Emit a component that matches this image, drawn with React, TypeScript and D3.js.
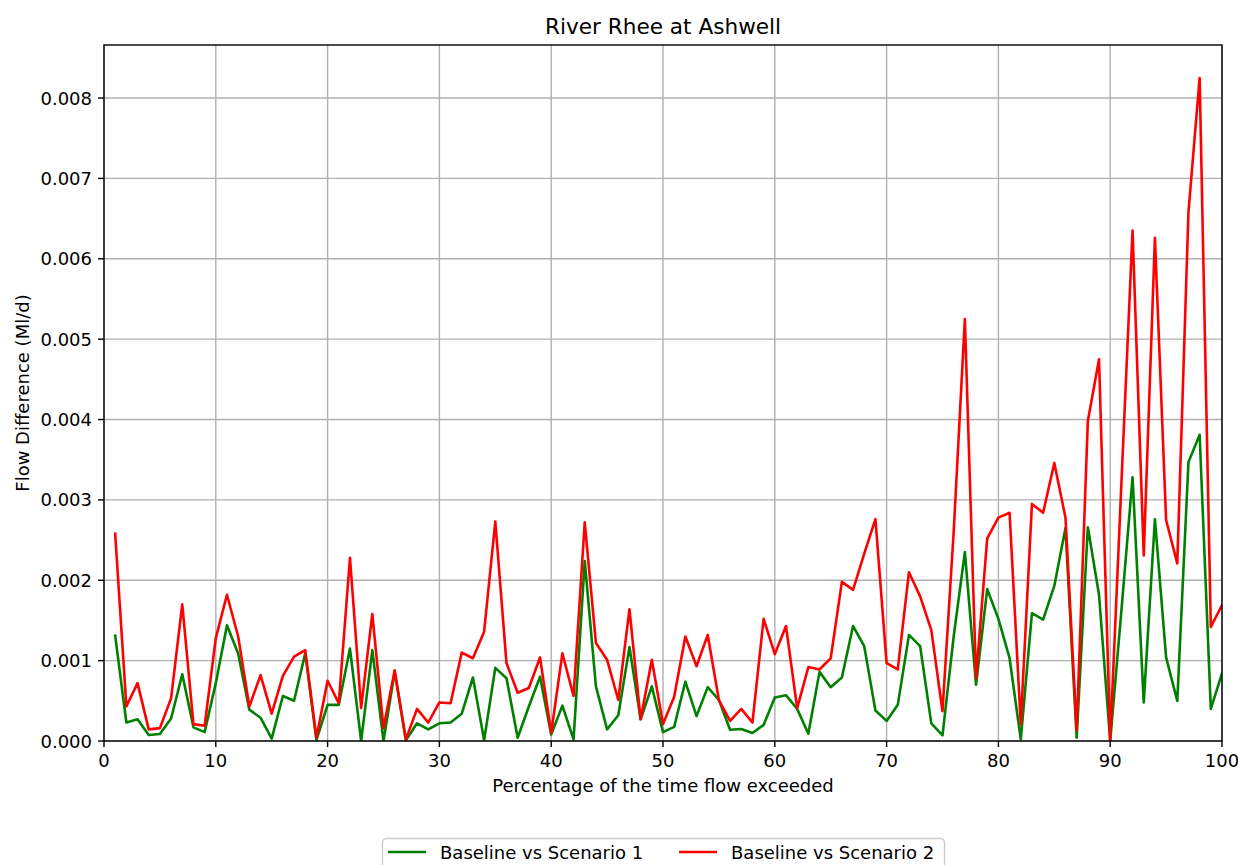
import React from "react";
import * as d3 from "d3";

const title = "River Rhee at Ashwell";
const xLabel = "Percentage of the time flow exceeded";
const yLabel = "Flow Difference (Ml/d)";
const seriesNames = ["Baseline vs Scenario 1", "Baseline vs Scenario 2"];
const seriesColors = ["#008000", "#ff0000"];

const xValues: number[] = Array.from({ length: 100 }, (_, i) => i + 1);

// values in units of 0.001 Ml/d
const scenario1: number[] = [
  1.31, 0.23, 0.27, 0.075, 0.087, 0.28, 0.83, 0.17, 0.11, 0.72,
  1.44, 1.09, 0.39, 0.29, 0.03, 0.56, 0.5, 1.09, 0.01, 0.45,
  0.45, 1.15, 0.0, 1.13, 0.0, 0.86, 0.01, 0.22, 0.145, 0.22,
  0.23, 0.34, 0.79, 0.01, 0.91, 0.78, 0.04, 0.43, 0.8, 0.08,
  0.44, 0.02, 2.24, 0.68, 0.145, 0.32, 1.17, 0.27, 0.68, 0.11,
  0.175, 0.74, 0.31, 0.67, 0.51, 0.14, 0.15, 0.1, 0.2, 0.54,
  0.57, 0.4, 0.09, 0.86, 0.67, 0.79, 1.43, 1.18, 0.38, 0.25,
  0.45, 1.32, 1.18, 0.22, 0.07, 1.3, 2.35, 0.7, 1.89, 1.52,
  1.03, 0.02, 1.59, 1.51, 1.93, 2.65, 0.04, 2.66, 1.82, 0.0,
  1.62, 3.28, 0.48, 2.76, 1.04, 0.5, 3.47, 3.81, 0.4, 0.84,
];

const scenario2: number[] = [
  2.58, 0.43, 0.72, 0.145, 0.16, 0.53, 1.7, 0.21, 0.19, 1.28,
  1.82, 1.3, 0.43, 0.82, 0.34, 0.81, 1.05, 1.13, 0.04, 0.75,
  0.47, 2.28, 0.41, 1.58, 0.16, 0.88, 0.02, 0.4, 0.23, 0.48,
  0.47, 1.1, 1.03, 1.36, 2.73, 0.97, 0.6, 0.66, 1.04, 0.1,
  1.09, 0.56, 2.72, 1.22, 1.01, 0.51, 1.64, 0.27, 1.01, 0.21,
  0.55, 1.3, 0.93, 1.32, 0.51, 0.25, 0.4, 0.23, 1.52, 1.08,
  1.43, 0.41, 0.92, 0.89, 1.03, 1.98, 1.88, 2.33, 2.76, 0.97,
  0.89, 2.1, 1.8, 1.38, 0.37, 2.6, 5.25, 0.78, 2.52, 2.78,
  2.84, 0.21, 2.95, 2.84, 3.46, 2.78, 0.13, 3.98, 4.75, 0.01,
  3.2, 6.35, 2.31, 6.26, 2.75, 2.21, 6.58, 8.25, 1.42, 1.69,
];

const xTicks = [0, 10, 20, 30, 40, 50, 60, 70, 80, 90, 100];
const yTicks = [0, 0.001, 0.002, 0.003, 0.004, 0.005, 0.006, 0.007, 0.008];

const W = 1238;
const H = 865;
const M = { left: 104, right: 1222, top: 45, bottom: 741 };
const FONT = "'DejaVu Sans', sans-serif";

export default function App() {
  const x = d3.scaleLinear().domain([0, 100]).range([M.left, M.right]);
  const y = d3.scaleLinear().domain([0, 0.00866]).range([M.bottom, M.top]);
  const line = d3
    .line<[number, number]>()
    .x((d) => x(d[0]))
    .y((d) => y(d[1]));
  const series = [scenario1, scenario2].map((arr) =>
    arr.map((v, i) => [xValues[i], v * 0.001] as [number, number])
  );
  const fmt = d3.format(".3f");
  const cx = (M.left + M.right) / 2;
  const cy = (M.top + M.bottom) / 2;

  return (
    <svg
      width={W}
      height={H}
      style={{ position: "absolute", left: 0, top: 0, background: "#fff" }}
      fontFamily={FONT}
    >
      <rect x={0} y={0} width={W} height={H} fill="#fff" />
      <defs>
        <clipPath id="plotclip">
          <rect x={M.left} y={M.top} width={M.right - M.left} height={M.bottom - M.top} />
        </clipPath>
      </defs>
      {/* grid */}
      {xTicks.map((t) => (
        <line key={"gx" + t} x1={x(t)} x2={x(t)} y1={M.top} y2={M.bottom} stroke="#b0b0b0" strokeWidth={1.4} />
      ))}
      {yTicks.map((t) => (
        <line key={"gy" + t} x1={M.left} x2={M.right} y1={y(t)} y2={y(t)} stroke="#b0b0b0" strokeWidth={1.4} />
      ))}
      {/* lines */}
      <g clipPath="url(#plotclip)">
        {series.map((s, i) => (
          <path key={i} d={line(s) || ""} fill="none" stroke={seriesColors[i]} strokeWidth={2.6} strokeLinejoin="round" strokeLinecap="square" />
        ))}
      </g>
      {/* spines */}
      <rect x={M.left} y={M.top} width={M.right - M.left} height={M.bottom - M.top} fill="none" stroke="#000" strokeWidth={1.4} />
      {/* x ticks */}
      {xTicks.map((t) => (
        <g key={"xt" + t}>
          <line x1={x(t)} x2={x(t)} y1={M.bottom} y2={M.bottom + 6} stroke="#000" strokeWidth={1.4} />
          <text x={x(t)} y={767} textAnchor="middle" fontSize={18} fill="#000">{t}</text>
        </g>
      ))}
      {/* y ticks */}
      {yTicks.map((t) => (
        <g key={"yt" + t}>
          <line x1={M.left - 6} x2={M.left} y1={y(t)} y2={y(t)} stroke="#000" strokeWidth={1.4} />
          <text x={92} y={y(t) + 6.5} textAnchor="end" fontSize={18} fill="#000">{fmt(t)}</text>
        </g>
      ))}
      {/* labels */}
      <text x={cx} y={34} textAnchor="middle" fontSize={21.6} fill="#000">{title}</text>
      <text x={cx} y={792} textAnchor="middle" fontSize={18} fill="#000">{xLabel}</text>
      <text transform={`translate(29,${cy}) rotate(-90)`} textAnchor="middle" fontSize={18} fill="#000">{yLabel}</text>
      {/* legend */}
      <rect x={382.5} y={838.5} width={562} height={44} rx={4} fill="#fff" fillOpacity={0.8} stroke="#cccccc" strokeWidth={1.4} />
      {seriesNames.map((n, i) => {
        const lx = [388, 679][i];
        return (
          <g key={"lg" + i}>
            <line x1={lx} x2={lx + 38} y1={852} y2={852} stroke={seriesColors[i]} strokeWidth={2.6} />
            <text x={lx + 52} y={858.5} fontSize={18} fill="#000">{n}</text>
          </g>
        );
      })}
    </svg>
  );
}
